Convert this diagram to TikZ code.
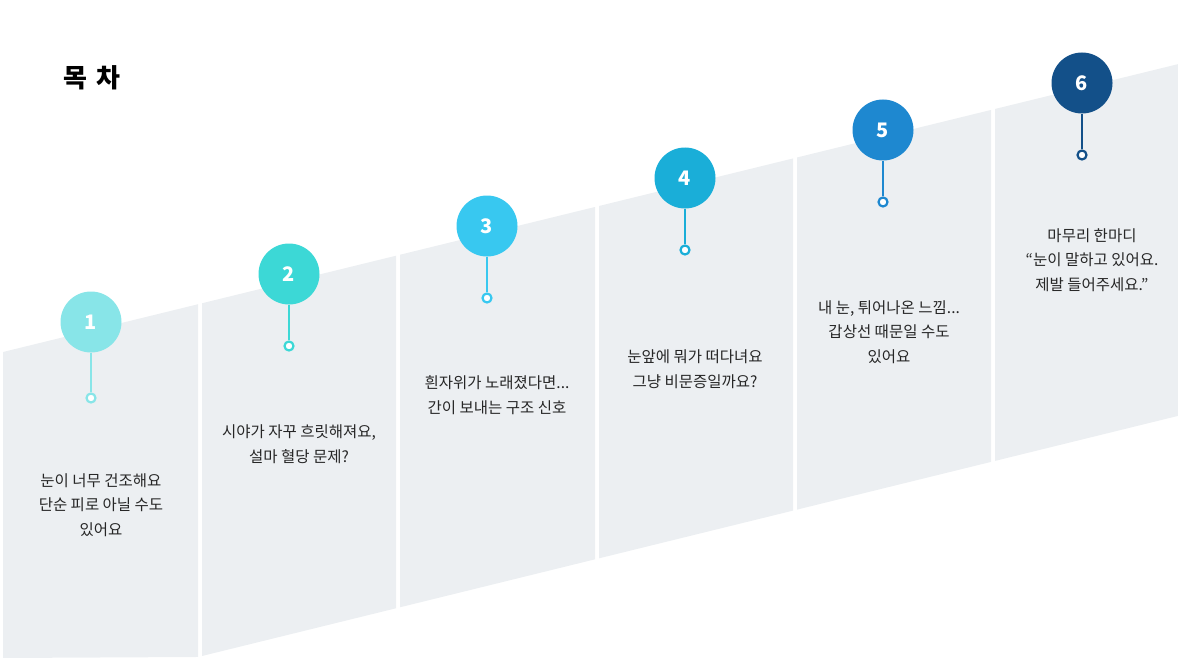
\documentclass[tikz,border=0pt]{standalone}
\usepackage{fontspec}
\setmainfont{Noto Sans CJK KR}
\definecolor{pan}{HTML}{ECEFF2}
\definecolor{c1}{HTML}{88E5E8}
\definecolor{c2}{HTML}{3CD8D6}
\definecolor{c3}{HTML}{38C8F0}
\definecolor{c4}{HTML}{1AAED8}
\definecolor{c5}{HTML}{1E88D0}
\definecolor{c6}{HTML}{135089}
\begin{document}
\begin{tikzpicture}[x=1pt,y=-1pt,
  numc/.style={circle,minimum size=61pt,inner sep=0,text=white,font=\fontsize{20}{20}\selectfont\bfseries},
  ring/.style={circle,draw=#1,line width=2.2pt,fill=white,minimum size=9pt,inner sep=0},
  lbl/.style={align=center,font=\fontsize{15.5}{24.5}\selectfont,text=black!85}]
\useasboundingbox (0,0) rectangle (1178,658);
\foreach \a/\b in {3/198,202/396,400/595,599/793,797/991,995/1178}{
  \fill[pan] (\a,{352-0.245*(\a-3)}) -- (\b,{352-0.245*(\b-3)}) -- (\b,{min(658,656-0.246*(\b-202))}) -- (\a,{min(658,656-0.246*(\a-202))}) -- cycle;
}
\node[anchor=west,font=\fontsize{26}{26}\selectfont\bfseries] (t) at (60,78) {목\hspace{0.35em}차};
\foreach \i/\x/\y/\c/\d in {1/91/322/c1/76,2/289/274/c2/72,3/487/226/c3/72,4/685/178/c4/72,5/883/130/c5/72,6/1082/83/c6/72}{
  \node[numc,fill=\c] (n\i) at (\x,\y) {\i};
  \node[ring=\c] (r\i) at (\x,\y+\d) {};
  \draw[\c,line width=2.5pt] (n\i) -- (r\i);
}
\node[lbl] (l1) at (101,505) {눈이 너무 건조해요\\단순 피로 아닐 수도\\있어요};
\node[lbl] (l2) at (299,444) {시야가 자꾸 흐릿해져요,\\설마 혈당 문제?};
\node[lbl] (l3) at (497,395) {흰자위가 노래졌다면...\\간이 보내는 구조 신호};
\node[lbl] (l4) at (695,369) {눈앞에 뭐가 떠다녀요\\그냥 비문증일까요?};
\node[lbl] (l5) at (889,332) {내 눈, 튀어나온 느낌...\\갑상선 때문일 수도\\있어요};
\node[lbl] (l6) at (1092,260) {마무리 한마디\\“눈이 말하고 있어요.\\제발 들어주세요.”};
\end{tikzpicture}
\end{document}
